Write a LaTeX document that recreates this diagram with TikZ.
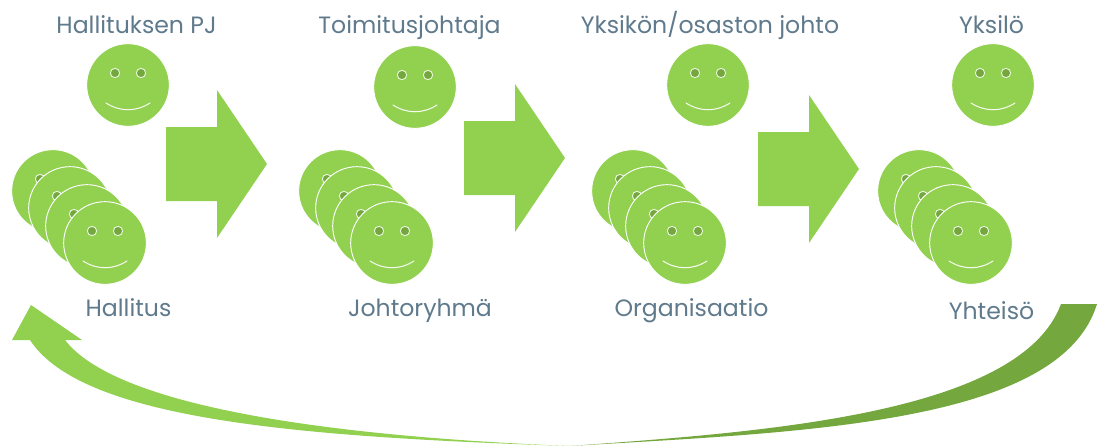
\documentclass[tikz,border=0pt]{standalone}
\usepackage{fontspec}
\setmainfont{Poppins}
\definecolor{lime}{HTML}{92D050}
\definecolor{limedark}{HTML}{74A83F}
\definecolor{eye}{HTML}{74A83F}
\definecolor{label}{HTML}{5F7A8C}
\tikzset{
  face/.style={circle,fill=lime,draw=white,line width=0.7pt,minimum size=62pt,inner sep=0pt},
  eyedot/.style={circle,fill=eye,draw=white!80!lime,line width=0.7pt,minimum size=7pt,inner sep=0pt},
  mouth/.style={draw=white!90!lime,line width=0.8pt,line cap=round},
  caption/.style={text=label,font=\fontsize{17.7pt}{21pt}\selectfont,inner sep=0pt,anchor=base},
  bigarrow/.style={fill=lime,draw=none},
}
% \smiley{name}{x}{y}
\newcommand{\smiley}[3]{%
  \node[face] (#1) at (#2,#3) {};
  \node[eyedot] (#1-l) at ($(#2,#3)+(-13,-12)$) {};
  \node[eyedot] (#1-r) at ($(#2,#3)+(13,-12)$) {};
  \draw[mouth] ($(#2,#3)+(-22,18)$) .. controls ($(#2,#3)+(-8,27)$) and ($(#2,#3)+(8,27)$) .. ($(#2,#3)+(22,18)$);
}
\newcommand{\smileygroup}[3]{%
  \smiley{#1a}{#2}{#3}
  \smiley{#1b}{\the\numexpr#2+17\relax}{\the\numexpr#3+17\relax}
  \smiley{#1c}{\the\numexpr#2+34\relax}{\the\numexpr#3+35\relax}
  \smiley{#1d}{\the\numexpr#2+52\relax}{\the\numexpr#3+52\relax}
}
\newcommand{\blockarrow}[2]{%
  \fill[bigarrow] (#1,#2-37) -- (#1+51,#2-37) -- (#1+51,#2-74) -- (#1+101,#2) -- (#1+51,#2+74) -- (#1+51,#2+37) -- (#1,#2+37) -- cycle;
}
\usetikzlibrary{calc}
\begin{document}
\begin{tikzpicture}[x=0.75pt,y=-0.75pt]
\useasboundingbox (0,0) rectangle (1097,446);
\smiley{s1}{128}{85}
\smiley{s2}{415}{87}
\smiley{s3}{708}{85}
\smiley{s4}{993}{85}
\smileygroup{g1}{53}{191}
\smileygroup{g2}{340}{191}
\smileygroup{g3}{633}{191}
\smileygroup{g4}{919}{191}
\blockarrow{166}{164}
\blockarrow{464}{158}
\blockarrow{758}{169}
\node[caption] (t1) at (136.5,33) {Hallituksen PJ};
\node[caption] (t2) at (409.5,33) {Toimitusjohtaja};
\node[caption] (t3) at (710,33) {Yksikön/osaston johto};
\node[caption] (t4) at (991.5,33) {Yksilö};
\node[caption] (b1) at (128.5,316) {Hallitus};
\node[caption] (b2) at (420,316) {Johtoryhmä};
\node[caption] (b3) at (691.5,316) {Organisaatio};
\node[caption] (b4) at (991.5,319) {Yhteisö};
\fill[lime] (570,446) .. controls (320,436) and (115,405) .. (65,340) -- (82,340) -- (31,305) -- (12,340) -- (30,340) .. controls (82,420) and (300,437) .. (570,446) -- cycle;
\fill[limedark] (570,446) .. controls (760,432) and (1020,415) .. (1061,304) -- (1097,304) .. controls (1060,425) and (800,432) .. (570,446) -- cycle;
\end{tikzpicture}
\end{document}
